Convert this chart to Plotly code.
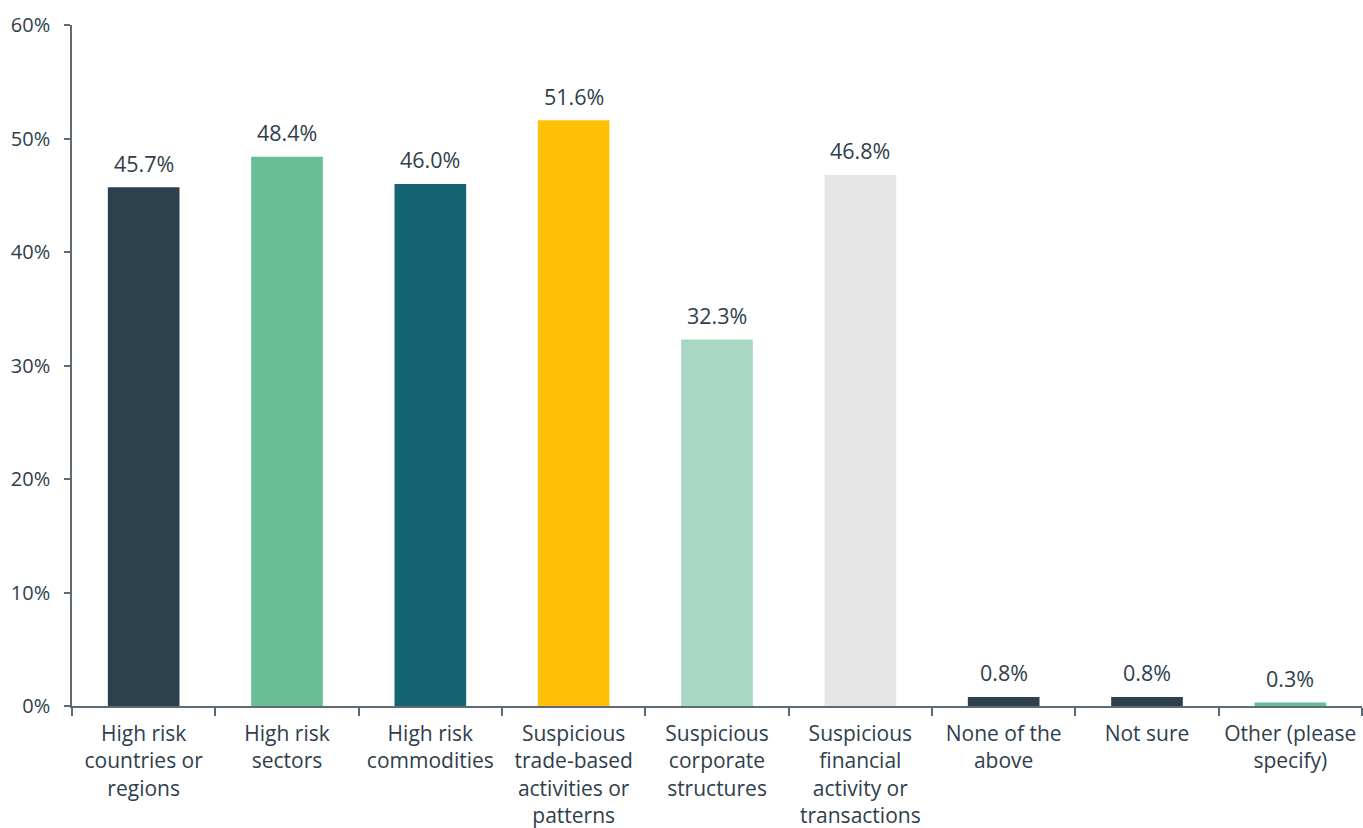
import plotly.graph_objects as go

# Survey responses: share of respondents selecting each risk indicator
categories = [
    "High risk<br>countries or<br>regions",
    "High risk<br>sectors",
    "High risk<br>commodities",
    "Suspicious<br>trade-based<br>activities or<br>patterns",
    "Suspicious<br>corporate<br>structures",
    "Suspicious<br>financial<br>activity or<br>transactions",
    "None of the<br>above",
    "Not sure",
    "Other (please<br>specify)",
]
values = [45.7, 48.4, 46.0, 51.6, 32.3, 46.8, 0.8, 0.8, 0.3]
bar_colors = [
    "#2C3F4D", "#68BF96", "#136470", "#FFC107", "#A8D8C3",
    "#E6E6E6", "#2C3F4D", "#2C3F4D", "#68BF96",
]
y_ticks = [0, 10, 20, 30, 40, 50, 60]

text_color = "#2F3E4C"
axis_color = "#5E6A74"
font_family = "Open Sans, Noto Sans, sans-serif"

fig = go.Figure(
    go.Bar(
        x=categories,
        y=values,
        marker=dict(color=bar_colors, line=dict(width=0)),
        width=0.5,
        hoverinfo="skip",
    )
)

# value labels floating above each bar
for cat, val in zip(categories, values):
    fig.add_annotation(
        x=cat,
        y=val,
        text=f"{val:.1f}%",
        showarrow=False,
        yanchor="middle",
        yshift=24,
        font=dict(size=21.5, color=text_color, family=font_family),
    )

fig.update_layout(
    width=1363,
    height=828,
    margin=dict(l=72, r=1, t=25, b=122, autoexpand=False),
    paper_bgcolor="white",
    plot_bgcolor="white",
    showlegend=False,
    font=dict(family=font_family, size=21, color=text_color),
)

fig.update_xaxes(
    type="category",
    automargin=False,
    showline=True,
    linecolor=axis_color,
    linewidth=1.5,
    ticks="outside",
    tickson="boundaries",
    ticklen=8,
    tickcolor=axis_color,
    tickwidth=1.5,
    tickfont=dict(size=21, color=text_color, family=font_family),
    ticklabelstandoff=8,
    showgrid=False,
    zeroline=False,
    tickangle=0,
)

fig.update_yaxes(
    range=[0, 60],
    automargin=False,
    tickvals=y_ticks,
    ticktext=[f"{v}%" for v in y_ticks],
    showline=True,
    linecolor=axis_color,
    linewidth=1.5,
    ticks="outside",
    ticklen=6,
    tickcolor=axis_color,
    tickwidth=1.5,
    tickfont=dict(size=20, color=text_color, family=font_family),
    ticklabelstandoff=10,
    showgrid=False,
    zeroline=False,
)

fig.write_html("out.html")
